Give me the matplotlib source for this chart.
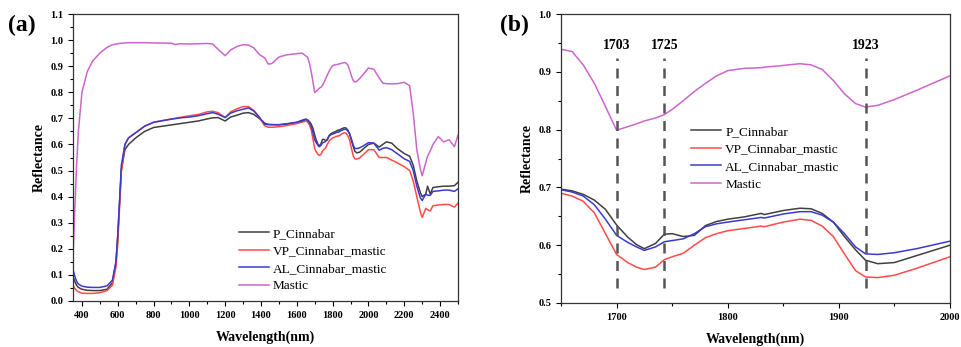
import numpy as np
import matplotlib.pyplot as plt

plt.rcParams['font.family'] = ['Liberation Serif', 'DejaVu Serif']

# wavelength grid (nm) and reflectance readings
wl = [350, 360, 370, 380, 400, 430, 460, 500, 540, 570, 590, 600, 620, 640, 660,
      700, 750, 800, 900, 920, 950, 1000, 1050, 1100, 1130, 1160, 1200, 1230,
      1270, 1300, 1330, 1360, 1390, 1420, 1440, 1460, 1500, 1540, 1600, 1630,
      1650, 1660, 1670, 1680, 1690, 1700, 1710, 1718, 1725, 1735, 1743, 1750,
      1760, 1770, 1780, 1790, 1800, 1815, 1830, 1833, 1850, 1865, 1875, 1885,
      1895, 1905, 1915, 1924, 1935, 1950, 1970, 2000, 2030, 2060, 2080, 2100,
      2130, 2160, 2200, 2230, 2250, 2270, 2290, 2300, 2320, 2330, 2345, 2360,
      2390, 2420, 2450, 2480, 2500]

p_cinnabar = [0.093, 0.075, 0.060, 0.052, 0.045, 0.041, 0.040, 0.040, 0.045, 0.070, 0.150, 0.250, 0.500, 0.580, 0.600,
              0.625, 0.650, 0.665, 0.675, 0.677, 0.680, 0.685, 0.690, 0.698, 0.702, 0.703, 0.690, 0.705,
              0.713, 0.720, 0.722, 0.715, 0.700, 0.682, 0.677, 0.676, 0.675, 0.678, 0.685, 0.693,
              0.697, 0.694, 0.688, 0.678, 0.662, 0.635, 0.614, 0.601, 0.594, 0.603, 0.619, 0.620,
              0.615, 0.617, 0.634, 0.641, 0.645, 0.649, 0.655, 0.653, 0.660, 0.664, 0.663, 0.655,
              0.640, 0.615, 0.592, 0.574, 0.568, 0.570, 0.582, 0.600, 0.605, 0.590, 0.600, 0.610,
              0.605, 0.585, 0.565, 0.555, 0.520, 0.460, 0.415, 0.400, 0.410, 0.440, 0.410, 0.435,
              0.438, 0.440, 0.440, 0.442, 0.455]

vp_mastic = [0.060, 0.048, 0.040, 0.035, 0.030, 0.029, 0.029, 0.032, 0.040, 0.060, 0.130, 0.220, 0.500, 0.600, 0.625,
             0.645, 0.670, 0.685, 0.698, 0.700, 0.704, 0.710, 0.715, 0.725, 0.727, 0.722, 0.703, 0.725,
             0.738, 0.745, 0.745, 0.730, 0.705, 0.672, 0.666, 0.666, 0.668, 0.672, 0.680, 0.686,
             0.690, 0.685, 0.676, 0.656, 0.620, 0.584, 0.570, 0.562, 0.558, 0.562, 0.575, 0.580,
             0.586, 0.600, 0.613, 0.620, 0.625, 0.629, 0.633, 0.632, 0.640, 0.645, 0.643, 0.633,
             0.615, 0.585, 0.556, 0.545, 0.544, 0.548, 0.560, 0.580, 0.580, 0.550, 0.550, 0.550,
             0.540, 0.530, 0.515, 0.500, 0.460, 0.400, 0.340, 0.320, 0.355, 0.350, 0.345, 0.365,
             0.368, 0.370, 0.370, 0.360, 0.375]

al_mastic = [0.120, 0.095, 0.075, 0.065, 0.057, 0.053, 0.052, 0.052, 0.058, 0.080, 0.150, 0.250, 0.520, 0.600, 0.625,
             0.645, 0.670, 0.685, 0.697, 0.699, 0.702, 0.705, 0.710, 0.718, 0.722, 0.716, 0.703, 0.720,
             0.730, 0.735, 0.740, 0.728, 0.705, 0.678, 0.676, 0.676, 0.676, 0.679, 0.685, 0.690,
             0.696, 0.692, 0.685, 0.670, 0.645, 0.617, 0.605, 0.597, 0.591, 0.597, 0.606, 0.608,
             0.611, 0.620, 0.632, 0.637, 0.640, 0.644, 0.648, 0.647, 0.654, 0.658, 0.658, 0.652,
             0.640, 0.620, 0.597, 0.585, 0.584, 0.587, 0.594, 0.607, 0.605, 0.578, 0.585, 0.588,
             0.580, 0.565, 0.545, 0.535, 0.500, 0.440, 0.395, 0.385, 0.410, 0.405, 0.405, 0.420,
             0.422, 0.425, 0.425, 0.420, 0.430]

mastic = [0.170, 0.350, 0.520, 0.650, 0.800, 0.880, 0.920, 0.950, 0.972, 0.982, 0.985, 0.986, 0.988, 0.989, 0.990,
          0.990, 0.990, 0.989, 0.988, 0.983, 0.986, 0.985, 0.986, 0.987, 0.985, 0.965, 0.940, 0.962,
          0.977, 0.982, 0.981, 0.970, 0.945, 0.932, 0.908, 0.910, 0.935, 0.943, 0.948, 0.950,
          0.939, 0.935, 0.912, 0.880, 0.840, 0.799, 0.805, 0.810, 0.815, 0.820, 0.826, 0.835,
          0.850, 0.866, 0.880, 0.893, 0.902, 0.906, 0.907, 0.908, 0.911, 0.914, 0.912, 0.904,
          0.885, 0.862, 0.845, 0.839, 0.842, 0.852, 0.868, 0.893, 0.888, 0.855, 0.835, 0.833,
          0.832, 0.833, 0.838, 0.825, 0.720, 0.580, 0.505, 0.480, 0.530, 0.555, 0.575, 0.600,
          0.630, 0.610, 0.618, 0.592, 0.635]

labels = ['P_Cinnabar', 'VP_Cinnabar_mastic', 'AL_Cinnabar_mastic', 'Mastic']
colors = ['#404040', '#ff4a4a', '#3a3ad0', '#cc66cc']
series = [p_cinnabar, vp_mastic, al_mastic, mastic]

# absorption features marked in panel (b): drawn position, printed label
band_pos = [1700, 1743, 1924]
band_lbl = ['1703', '1725', '1923']

fig = plt.figure(figsize=(9.62, 3.47), dpi=100)
ax1 = fig.add_axes([73/962, 1 - 301/347, 385/962, 287/347])
ax2 = fig.add_axes([561/962, 1 - 303/347, 389/962, 289/347])

for ax in (ax1, ax2):
    for y, lab, c in zip(series, labels, colors):
        ax.plot(wl, y, color=c, lw=1.1, label=lab)
    ax.set_ylabel('Reflectance', fontsize=10, fontweight='bold', labelpad=3)
    ax.set_xlabel('Wavelength(nm)', fontsize=10, fontweight='bold', labelpad=8)
    ax.tick_params(which='both', direction='out', top=False, right=False,
                   labelsize=7.5, width=0.8)
    ax.tick_params(which='major', length=3.5)
    ax.tick_params(which='minor', length=2)
    for s in ax.spines.values():
        s.set_linewidth(0.9)
        s.set_color('#333333')

ax1.set_xlim(350, 2500)
ax1.set_ylim(0, 1.1)
ax1.set_xticks(np.arange(400, 2401, 200))
ax1.set_xticks(np.arange(400, 2501, 100), minor=True)
ax1.set_yticks(np.arange(0, 1.11, 0.1))
ax1.set_yticks(np.arange(0, 1.11, 0.05), minor=True)
ax1.set_yticklabels(['%.1f' % v for v in np.arange(0, 1.11, 0.1)], fontweight='bold')
ax1.set_xticklabels([str(v) for v in range(400, 2401, 200)], fontweight='bold')
ax1.legend(loc='upper left', bbox_to_anchor=(0.43, 0.256), frameon=False,
           fontsize=9.5, handlelength=2.3, handletextpad=0.3, labelspacing=0.4,
           borderpad=0, borderaxespad=0)

ax2.set_xlim(1650, 2000)
ax2.set_ylim(0.5, 1.0)
ax2.set_xticks(np.arange(1700, 2001, 100))
ax2.set_xticks(np.arange(1650, 2001, 50), minor=True)
ax2.set_yticks(np.arange(0.5, 1.01, 0.1))
ax2.set_yticks(np.arange(0.5, 1.01, 0.05), minor=True)
ax2.set_yticklabels(['%.1f' % v for v in np.arange(0.5, 1.01, 0.1)], fontweight='bold')
ax2.set_xticklabels([str(v) for v in range(1700, 2001, 100)], fontweight='bold')
for x, lab in zip(band_pos, band_lbl):
    ax2.plot([x, x], [0.526, 0.924], color='#555555', lw=1.8, ls=(0, (4, 3)))
    ax2.text(x, 0.945, lab, ha='center', va='center', fontsize=10, fontweight='bold')
ax2.legend(loc='upper left', bbox_to_anchor=(0.334, 0.613), frameon=False,
           fontsize=9.5, handlelength=2.3, handletextpad=0.3, labelspacing=0.4,
           borderpad=0, borderaxespad=0)

fig.text(8/962, 1 - 25/347, '(a)', fontsize=17, fontweight='bold', va='center')
fig.text(500/962, 1 - 25/347, '(b)', fontsize=17, fontweight='bold', va='center')

fig.savefig('out.png', dpi=100)
